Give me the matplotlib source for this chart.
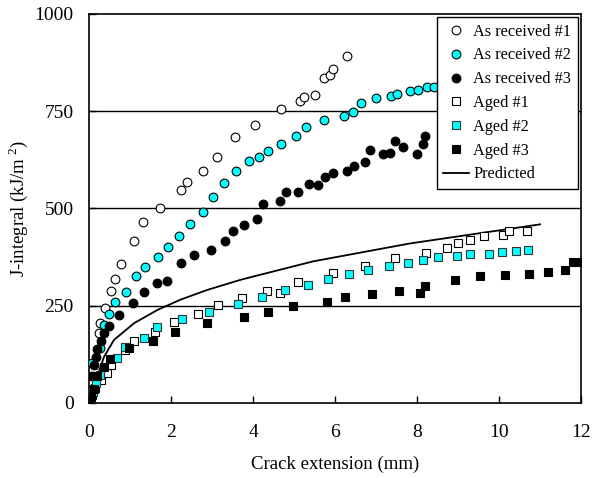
import matplotlib
matplotlib.use('Agg')
import matplotlib.pyplot as plt

plt.rcParams['font.family'] = ['Liberation Serif', 'DejaVu Serif']
plt.rcParams['mathtext.fontset'] = 'custom'
plt.rcParams['mathtext.rm'] = 'Liberation Serif'

# As received #1 (open circles)
ar1_x = [0.24, 0.28, 0.39, 0.54, 0.63, 0.77, 1.10, 1.31, 1.73, 2.24, 2.38, 2.79, 3.12,
         3.57, 4.06, 4.69, 5.14, 5.24, 5.52, 5.74, 5.88, 5.94, 6.29]
ar1_y = [180, 205, 243, 288, 318, 357, 417, 464, 500, 547, 568, 595, 632,
         684, 715, 755, 776, 786, 792, 834, 844, 859, 891]

# As received #2 (cyan circles)
ar2_x = [0.08, 0.27, 0.37, 0.50, 0.64, 0.91, 1.14, 1.37, 1.69, 1.93, 2.20, 2.47, 2.79,
         3.02, 3.29, 3.59, 3.90, 4.14, 4.37, 4.69, 5.05, 5.28, 5.74, 6.22, 6.44,
         6.63, 6.99, 7.36, 7.51, 7.83, 8.03, 8.24, 8.42, 8.7]
ar2_y = [102, 140, 200, 228, 260, 286, 327, 349, 376, 401, 428, 459, 491,
         529, 566, 595, 622, 633, 648, 665, 685, 710, 728, 738, 748,
         770, 784, 789, 795, 801, 805, 812, 812, 815]

# As received #3 (black circles)
ar3_x = [0.0, 0.03, 0.07, 0.12, 0.16, 0.20, 0.29, 0.37, 0.49, 0.73, 1.07, 1.35, 1.65,
         1.91, 2.24, 2.55, 2.98, 3.32, 3.50, 3.77, 4.10, 4.24, 4.67, 4.81, 5.09,
         5.36, 5.58, 5.76, 5.96, 6.29, 6.46, 6.73, 6.85, 7.16, 7.35, 7.45, 7.66,
         7.99, 8.15, 8.20]
ar3_y = [13, 33, 68, 98, 119, 138, 158, 179, 198, 226, 256, 284, 309,
         314, 360, 379, 392, 416, 441, 457, 472, 512, 520, 542, 543,
         564, 560, 581, 591, 595, 610, 619, 650, 641, 643, 672, 658,
         640, 666, 685]

# Aged #1 (open squares)
ag1_x = [0.02, 0.08, 0.15, 0.30, 0.45, 0.53, 0.88, 1.10, 1.61, 2.08, 2.67, 3.14, 3.72,
         4.35, 4.66, 5.09, 5.96, 6.74, 7.47, 8.22, 8.72, 9.00, 9.28, 9.62,
         10.09, 10.23, 10.67]
ag1_y = [5, 20, 38, 60, 78, 98, 136, 158, 183, 207, 229, 252, 269,
         288, 283, 311, 334, 353, 372, 386, 397, 411, 420, 428,
         432, 442, 442]

# Aged #2 (cyan squares)
ag2_x = [0.03, 0.10, 0.18, 0.27, 0.69, 0.89, 1.34, 1.67, 2.28, 2.93, 3.63, 4.21, 4.79,
         5.35, 5.84, 6.33, 6.81, 7.31, 7.79, 8.15, 8.52, 8.98, 9.29, 9.75,
         10.07, 10.42, 10.71]
ag2_y = [8, 28, 50, 72, 116, 143, 166, 194, 215, 235, 254, 272, 290,
         304, 319, 332, 342, 351, 359, 368, 374, 378, 384, 384,
         388, 391, 392]

# Aged #3 (black squares)
ag3_x = [0.0, 0.05, 0.12, 0.20, 0.37, 0.51, 0.98, 1.55, 2.10, 2.89, 3.78, 4.37, 4.97,
         5.80, 6.24, 6.90, 7.57, 8.08, 8.19, 8.93, 9.53, 10.15, 10.72, 11.20,
         11.61, 11.80, 12.01]
ag3_y = [3, 15, 35, 68, 92, 112, 141, 160, 182, 205, 220, 235, 249,
         260, 273, 281, 288, 283, 300, 317, 327, 329, 332, 336,
         342, 363, 363]

# Predicted curve
pred_x = [0.20, 0.24, 0.37, 0.61, 1.10, 1.67, 2.22, 2.87, 3.68, 4.01, 5.47, 7.83, 11.0]
pred_y = [60, 80, 119, 162, 205, 239, 265, 290, 316, 325, 364, 410, 459]

fig = plt.figure(figsize=(5.93, 4.78), dpi=100)
ax = fig.add_axes([0.150, 0.157, 0.830, 0.814])

for yv in [250, 500, 750]:
    ax.axhline(yv, color='black', lw=1.0, zorder=1)

ms = 6.3
mew = 0.8
ax.plot(ar1_x, ar1_y, 'o', ms=ms, mfc='white', mec='black', mew=mew, label='As received #1', zorder=3)
ax.plot(ar2_x, ar2_y, 'o', ms=ms, mfc='#00FFFF', mec='black', mew=mew, label='As received #2', zorder=3)
ax.plot(ar3_x, ar3_y, 'o', ms=ms, mfc='black', mec='black', mew=mew, label='As received #3', zorder=3)
ax.plot(ag1_x, ag1_y, 's', ms=ms, mfc='white', mec='black', mew=mew, label='Aged #1', zorder=3)
ax.plot(ag2_x, ag2_y, 's', ms=ms, mfc='#00FFFF', mec='#333333', mew=mew, label='Aged #2', zorder=3)
ax.plot(ag3_x, ag3_y, 's', ms=ms, mfc='black', mec='black', mew=mew, label='Aged #3', zorder=3)
ax.plot(pred_x, pred_y, '-', color='black', lw=1.3, label='Predicted', zorder=2)

ax.set_xlim(0, 12)
ax.set_ylim(0, 1000)
ax.set_xticks([0, 2, 4, 6, 8, 10, 12])
ax.set_yticks([0, 250, 500, 750, 1000])
ax.tick_params(direction='in', length=5, labelsize=14, width=1)
ax.tick_params(axis='x', pad=15)
ax.tick_params(axis='y', pad=11)
for s in ax.spines.values():
    s.set_linewidth(1.2)

ax.set_xlabel('Crack extension (mm)', fontsize=13.5, labelpad=11)
ax.set_ylabel('J-integral (kJ/m$^{\\ 2}$)', fontsize=13.5, labelpad=3)

leg = ax.legend(loc='upper right', fontsize=11.7, frameon=True, fancybox=False,
                edgecolor='black', framealpha=1, labelspacing=0.48,
                handlelength=1.6, handletextpad=0.25, borderpad=0.4,
                borderaxespad=0.2)
leg.get_frame().set_linewidth(1.0)
leg.set_zorder(5)

fig.savefig('out.png', dpi=100)
